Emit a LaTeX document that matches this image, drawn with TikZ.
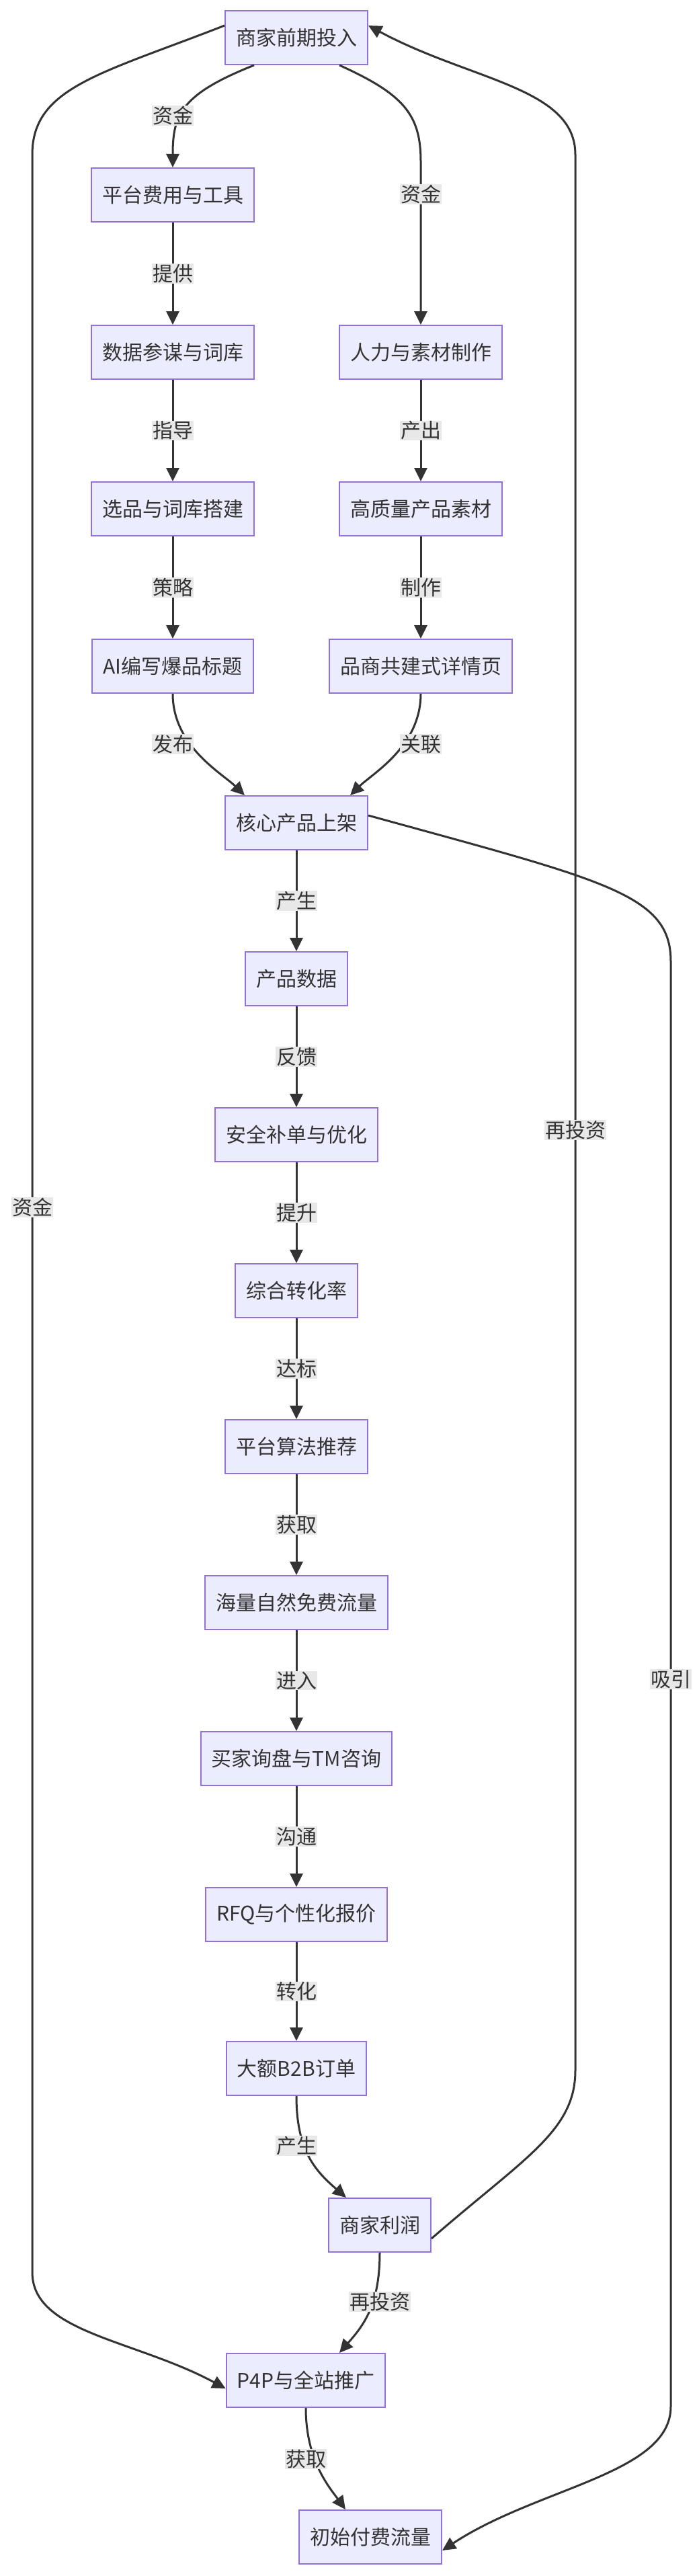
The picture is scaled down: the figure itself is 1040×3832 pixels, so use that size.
\documentclass[tikz,border=0pt]{standalone}
\usepackage{fontspec}
\setmainfont{Noto Sans CJK SC}
\usetikzlibrary{arrows.meta}
\begin{document}
\begin{tikzpicture}[x=1pt,y=-1pt,
  box/.style={draw=mmborder,fill=mmfill,line width=2pt,minimum height=80pt,inner xsep=16pt,font=\fontsize{30}{34}\selectfont,text=mmtext},
  lbl/.style={fill=mmlbl,inner sep=1pt,font=\fontsize{30}{34}\selectfont,text=mmtext},
  arr/.style={draw=mmline,line width=3pt,-{Triangle[length=20pt,width=19pt]}},
  ln/.style={draw=mmline,line width=3pt}]
\definecolor{mmborder}{HTML}{9370DB}
\definecolor{mmfill}{HTML}{ECECFF}
\definecolor{mmtext}{HTML}{333333}
\definecolor{mmline}{HTML}{333333}
\definecolor{mmlbl}{HTML}{E8E8E8}
\useasboundingbox[fill=white] (0,0) rectangle (1040,3832);
% nodes
\node[box] (top) at (441,56) {商家前期投入};
\node[box] (a1) at (257,290) {平台费用与工具};
\node[box] (a2) at (257,524) {数据参谋与词库};
\node[box] (a3) at (257,757) {选品与词库搭建};
\node[box] (a4) at (257,991) {AI编写爆品标题};
\node[box] (b1) at (626,524) {人力与素材制作};
\node[box] (b2) at (626,757) {高质量产品素材};
\node[box] (b3) at (626,991) {品商共建式详情页};
\node[box] (c0) at (441,1224) {核心产品上架};
\node[box] (c1) at (441,1456) {产品数据};
\node[box] (c2) at (441,1688) {安全补单与优化};
\node[box] (c3) at (441,1920) {综合转化率};
\node[box] (c4) at (441,2152) {平台算法推荐};
\node[box] (c5) at (441,2384) {海量自然免费流量};
\node[box] (c6) at (441,2616) {买家询盘与TM咨询};
\node[box] (c7) at (441,2848) {RFQ与个性化报价};
\node[box] (c8) at (441,3077) {大额B2B订单};
\node[box] (pr) at (565,3310) {商家利润};
\node[box] (pp) at (455,3541) {P4P与全站推广};
\node[box] (ft) at (551,3774) {初始付费流量};
% edges
\draw[arr] ([xshift=-63pt]top.south) .. controls (270,140) and (257,170) .. (a1.north);
\node[lbl] at (257,172) {资金};
\draw[arr] ([xshift=64pt]top.south) .. controls (600,140) and (626,170) .. (626,240) -- (b1.north);
\node[lbl] at (626,289) {资金};
\draw[arr] (a1) -- node[lbl]{提供} (a2);
\draw[arr] (a2) -- node[lbl]{指导} (a3);
\draw[arr] (a3) -- node[lbl]{策略} (a4);
\draw[arr] (b1) -- node[lbl]{产出} (b2);
\draw[arr] (b2) -- node[lbl]{制作} (b3);
\draw[arr] (a4.south) .. controls (257,1110) and (330,1150) .. ([xshift=-77pt]c0.north);
\node[lbl] at (257,1107) {发布};
\draw[arr] (b3.south) .. controls (626,1110) and (555,1150) .. ([xshift=80pt]c0.north);
\node[lbl] at (626,1107) {关联};
\draw[arr] (c0) -- node[lbl]{产生} (c1);
\draw[arr] (c1) -- node[lbl]{反馈} (c2);
\draw[arr] (c2) -- node[lbl]{提升} (c3);
\draw[arr] (c3) -- node[lbl]{达标} (c4);
\draw[arr] (c4) -- node[lbl]{获取} (c5);
\draw[arr] (c5) -- node[lbl]{进入} (c6);
\draw[arr] (c6) -- node[lbl]{沟通} (c7);
\draw[arr] (c7) -- node[lbl]{转化} (c8);
\draw[arr] (c8.south) .. controls (441,3200) and (470,3230) .. ([xshift=-50pt]pr.north);
\node[lbl] at (441,3192) {产生};
\draw[arr] (pr.south) .. controls (565,3430) and (540,3460) .. ([xshift=50pt]pp.north);
\node[lbl] at (565,3424) {再投资};
\draw[arr] (pp.south) .. controls (455,3660) and (490,3700) .. ([xshift=-37pt]ft.north);
\node[lbl] at (455,3658) {获取};
% long loops
\draw[arr] ([yshift=18pt]top.west) .. controls (150,110) and (48,130) .. (48,230) -- (48,3380) .. controls (48,3470) and (200,3480) .. ([yshift=-12pt]pp.west);
\node[lbl] at (48,1796) {资金};
\draw[arr] ([yshift=-20pt]pr.east) .. controls (780,3210) and (856,3170) .. (856,3080) -- (856,230) .. controls (856,130) and (700,120) .. ([yshift=18pt]top.east);
\node[lbl] at (856,1681) {再投资};
\draw[arr] ([yshift=11pt]c0.east) .. controls (900,1310) and (998,1330) .. (998,1430) -- (998,3580) .. controls (998,3680) and (800,3700) .. ([yshift=-20pt]ft.east);
\node[lbl] at (998,2498) {吸引};
\end{tikzpicture}
\end{document}
